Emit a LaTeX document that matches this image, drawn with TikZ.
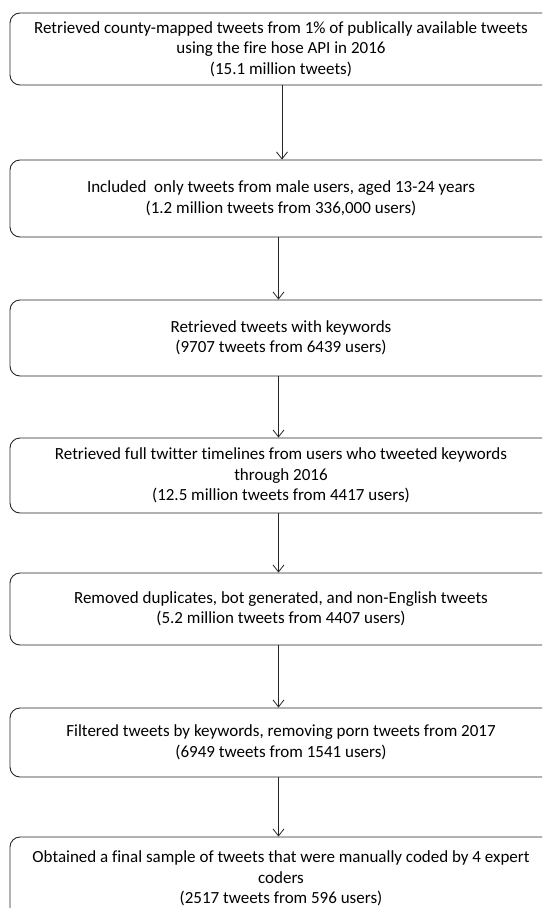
\documentclass[tikz,border=0pt]{standalone}
\usepackage{fontspec}
\setmainfont{Carlito}[Ligatures=NoCommon]
\usetikzlibrary{arrows.meta}
\begin{document}
\begin{tikzpicture}[x=1pt,y=-1pt,
 stepbox/.style={draw=black!85, line width=0.9pt, rounded corners=10pt, minimum width=542pt,
   align=center, font=\fontsize{17}{20.5}\selectfont, inner sep=0pt},
 flow/.style={draw=black!85, line width=0.8pt, -{Straight Barb[length=7pt,width=11pt]}}]
\useasboundingbox (0,0) rectangle (542,908);
\clip (0,0) rectangle (542,908);
\node[stepbox, minimum height=72pt] (b1) at (281,49) {Retrieved county-mapped tweets from 1\% of publically available tweets\\using the fire hose API in 2016\\(15.1 million tweets)};
\node[stepbox, minimum height=77pt] (b2) at (281,198.5) {Included\ \ only tweets from male users, aged 13-24 years\\(1.2 million tweets from 336,000 users)};
\node[stepbox, minimum height=76pt] (b3) at (281,338) {Retrieved tweets with keywords\\(9707 tweets from 6439 users)};
\node[stepbox, minimum height=75pt] (b4) at (281,475.5) {Retrieved full twitter timelines from users who tweeted keywords\\through 2016\\(12.5 million tweets from 4417 users)};
\node[stepbox, minimum height=72pt] (b5) at (281,609) {Removed duplicates, bot generated, and non-English tweets\\(5.2 million tweets from 4407 users)};
\node[stepbox, minimum height=69pt] (b6) at (281,742.5) {Filtered tweets by keywords, removing porn tweets from 2017\\(6949 tweets from 1541 users)};
\node[stepbox, minimum height=83pt] (b7) at (281,878.5) {Obtained a final sample of tweets that were manually coded by 4 expert\\coders\\(2517 tweets from 596 users)};
\draw[flow] ([xshift=1pt]b1.south) -- ([xshift=1pt]b2.north);
\draw[flow] ([xshift=-2.5pt]b2.south) -- ([xshift=-2.5pt]b3.north);
\draw[flow] ([xshift=-2.5pt]b3.south) -- ([xshift=-2.5pt]b4.north);
\draw[flow] ([xshift=-2.5pt]b4.south) -- ([xshift=-2.5pt]b5.north);
\draw[flow] ([xshift=-2.5pt]b5.south) -- ([xshift=-2.5pt]b6.north);
\draw[flow] ([xshift=-2.5pt]b6.south) -- ([xshift=-2.5pt]b7.north);
\end{tikzpicture}
\end{document}
